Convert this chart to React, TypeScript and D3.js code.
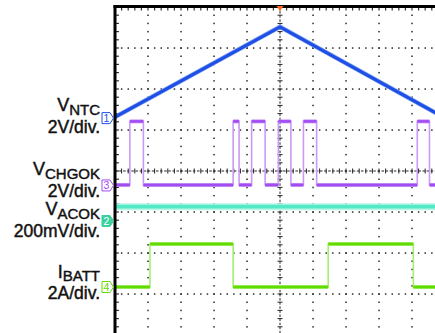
import React from 'react';
import * as d3 from 'd3';

const W = 435;
const H = 333;

// Horizontal axis: time in screen divisions (10 divisions)
const timeDomain = [0, 10];
// Vertical axis: screen divisions (8 divisions, centre = 0)
const divDomain = [-4, 4];

// Channel 1: V_NTC, 2V/div
const ntcTime = [0, 5.0, 10];
const ntcVolts = [0.05, 4.45, 0.0];
// Channel 3: V_CHGOK, 2V/div (level starting at each time)
const chgokTime = [0, 0.45, 0.86, 3.58, 3.76, 4.14, 4.55, 4.95, 5.33, 5.71, 6.11, 9.16, 9.53];
const chgokVolts = [0, 3.1, 0, 3.1, 0, 3.1, 0, 3.1, 0, 3.1, 0, 3.1, 0];
// Channel 2: V_ACOK, 200mV/div
const acokTime = [0, 10];
const acokVolts = [0.066, 0.066];
// Channel 4: I_BATT, 2A/div (level starting at each time)
const ibattTime = [0, 1.06, 3.58, 6.46, 9.04];
const ibattAmps = [0, 2.1, 0, 2.1, 0];

// Channel labels
const labelMain = ['V', 'V', 'V', 'I'];
const labelSub = ['NTC', 'CHGOK', 'ACOK', 'BATT'];
const labelScale = ['2V/div.', '2V/div.', '200mV/div.', '2A/div.'];
const channelIds = ['1', '3', '2', '4'];
const channelOffsets = [1.29, -0.34, -1.2, -2.83];
const channelPerDiv = [2, 2, 0.2, 2];

const x = d3.scaleLinear().domain(timeDomain).range([115, 445]);
const y = d3.scaleLinear().domain(divDomain).range([335, 7]);

const BLUE = '#1d4fe6';
const PURPLE = '#a24cf2';
const PURPLE_L = '#c99af7';
const TEAL = '#52e9c6';
const GREEN = '#62dc00';
const GREEN_L = '#a4ef6e';

function toDiv(ch: number, v: number) {
  return channelOffsets[ch] + v / channelPerDiv[ch];
}

function stepPts(times: number[], vals: number[], ch: number): [number, number][] {
  const pts: [number, number][] = times.map((t, i) => [x(t), y(toDiv(ch, vals[i]))]);
  pts.push([x(timeDomain[1]), y(toDiv(ch, vals[vals.length - 1]))]);
  return pts;
}

function StepTrace({ times, vals, ch, color, light }: { times: number[]; vals: number[]; ch: number; color: string; light: string }) {
  const pts = stepPts(times, vals, ch);
  const line = d3.line().curve(d3.curveStepAfter);
  const segs = times.map((t, i) => ({
    x1: x(t),
    x2: x(i + 1 < times.length ? times[i + 1] : timeDomain[1]),
    yy: y(toDiv(ch, vals[i])),
  }));
  return (
    <g>
      <path d={line(pts) || ''} fill="none" stroke={light} strokeWidth={1.6} />
      {segs.map((s, i) => (
        <g key={i}>
          <line x1={s.x1} x2={s.x2} y1={s.yy} y2={s.yy} stroke={light} strokeWidth={4} />
          <line x1={s.x1} x2={s.x2} y1={s.yy} y2={s.yy} stroke={color} strokeWidth={2.6} />
        </g>
      ))}
    </g>
  );
}

export default function App() {
  const xMajor = d3.range(1, 10).map((k) => k);
  const yMajor = d3.range(-3, 4).map((k) => k);
  const xMinor = d3.range(0, 50.001, 1).map((k) => k / 5);
  const yMinor = d3.range(-20, 20.001, 1).map((k) => k / 5);

  const dots: JSX.Element[] = [];
  xMajor.forEach((gx) => {
    if (gx === 5) return;
    yMinor.forEach((gy, j) => {
      dots.push(<rect key={`v${gx}-${j}`} x={x(gx) - 0.7} y={y(gy) - 0.7} width={1.5} height={1.5} fill="#2a2a2a" />);
    });
  });
  yMajor.forEach((gy) => {
    if (gy === 0) return;
    xMinor.forEach((gx, j) => {
      dots.push(<rect key={`h${gy}-${j}`} x={x(gx) - 0.7} y={y(gy) - 0.7} width={1.5} height={1.5} fill="#2a2a2a" />);
    });
  });

  const ntcLine = d3.line<number>()
    .x((t) => x(t))
    .y((_, i) => y(toDiv(0, ntcVolts[i])));
  const ntcPath = ntcLine(ntcTime) || '';

  const acokLine = d3.line<number>()
    .x((t) => x(t))
    .y((_, i) => y(toDiv(2, acokVolts[i])));
  const acokPath = acokLine(acokTime) || '';

  const markerColors = [BLUE, PURPLE, '#3ccf9f', GREEN];
  const markerY = [y(channelOffsets[0]), y(channelOffsets[1]) + 0.5, 221, y(channelOffsets[3])];

  const labelBase = [111, 175, 215, 278];
  const subShift = [4, 4, 4, 3];
  const scaleBase = [133, 196.5, 236.5, 298.5];

  return (
    <svg width={W} height={H} style={{ position: 'absolute', left: 0, top: 0, background: '#fff' }}
      fontFamily="'Liberation Sans', Arial, sans-serif">
      <rect x={0} y={0} width={W} height={H} fill="#fff" />
      <defs>
        <clipPath id="scr">
          <rect x={116} y={8} width={W - 116} height={H - 8} />
        </clipPath>
      </defs>
      {/* grid */}
      <g clipPath="url(#scr)">
        {dots}
        {/* centre horizontal */}
        <line x1={x(0)} x2={x(10)} y1={y(0)} y2={y(0)} stroke="#222" strokeWidth={1} strokeDasharray="2.5 1.6" />
        {xMinor.map((gx, i) => (
          <line key={`ch${i}`} x1={x(gx)} x2={x(gx)} y1={y(0) - 2.5} y2={y(0) + 2.5} stroke="#222" strokeWidth={1} />
        ))}
        {/* centre vertical */}
        <line x1={x(5)} x2={x(5)} y1={y(4)} y2={y(-4)} stroke="#222" strokeWidth={1} strokeDasharray="2.5 1.6" />
        {yMinor.map((gy, i) => (
          <line key={`cv${i}`} x1={x(5) - 2.5} x2={x(5) + 2.5} y1={y(gy)} y2={y(gy)} stroke="#222" strokeWidth={1} />
        ))}
        {/* border ticks */}
        {xMinor.map((gx, i) => (
          <line key={`tt${i}`} x1={x(gx)} x2={x(gx)} y1={8} y2={10.5} stroke="#333" strokeWidth={1.2} />
        ))}
        {yMinor.map((gy, i) => (
          <line key={`lt${i}`} x1={116} x2={119} y1={y(gy)} y2={y(gy)} stroke="#333" strokeWidth={1.2} />
        ))}

        {/* traces */}
        <path d={acokPath} fill="none" stroke="#b8f6e6" strokeWidth={7} />
        <path d={acokPath} fill="none" stroke={TEAL} strokeWidth={3.6} />
        <StepTrace times={chgokTime} vals={chgokVolts} ch={1} color={PURPLE} light={PURPLE_L} />
        <StepTrace times={ibattTime} vals={ibattAmps} ch={3} color={GREEN} light={GREEN_L} />
        <path d={ntcPath} fill="none" stroke="#7d9cf2" strokeWidth={4.4} />
        <path d={ntcPath} fill="none" stroke={BLUE} strokeWidth={3} />
      </g>

      {/* borders */}
      <line x1={115} x2={115} y1={5} y2={H} stroke="#000" strokeWidth={3} />
      <line x1={113.5} x2={W} y1={6.5} y2={6.5} stroke="#000" strokeWidth={3} />
      {/* trigger marker */}
      <path d={`M${x(5) - 3.5},6 L${x(5) + 3.5},6 L${x(5)},11 Z`} fill="#ff6a1c" />

      {/* channel markers */}
      {channelIds.map((id, i) => {
        const cy = markerY[i];
        const c = markerColors[i];
        const filled = id === '2';
        return (
          <g key={id}>
            <path d={`M102,${cy - 5.5} H110 L113.5,${cy} L110,${cy + 5.5} H102 Z`}
              fill={filled ? c : '#fff'} stroke={c} strokeWidth={1} />
            <text x={106.5} y={cy + 4} fontSize={10.5} textAnchor="middle" fill={filled ? '#fff' : c}>{id}</text>
          </g>
        );
      })}

      {/* labels */}
      {labelMain.map((m, i) => (
        <g key={`lab${i}`} fill="#111" stroke="#111" strokeWidth={0.45}>
          <text x={100} y={labelBase[i]} textAnchor="end" fontSize={18}>
            {m}
            <tspan fontSize={15} dy={subShift[i]}>{labelSub[i]}</tspan>
          </text>
          <text x={100} y={scaleBase[i]} textAnchor="end" fontSize={17.5}>{labelScale[i]}</text>
        </g>
      ))}
    </svg>
  );
}
